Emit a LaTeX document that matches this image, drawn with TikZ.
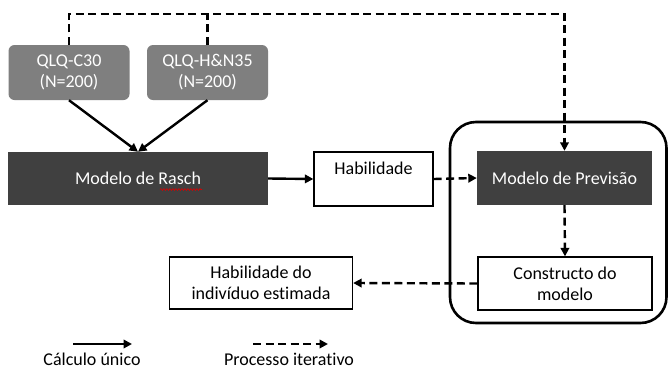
\documentclass[tikz,border=0pt]{standalone}
\usepackage{fontspec}
\setmainfont{Carlito}[Ligatures=NoCommon]
\usetikzlibrary{arrows.meta,decorations.pathmorphing,calc}
\definecolor{boxgrey}{RGB}{127,127,127}
\definecolor{boxdark}{RGB}{64,64,64}
\begin{document}
\begin{tikzpicture}[x=1pt,y=-1pt,
  font=\fontsize{18}{21}\selectfont,
  greybox/.style={fill=boxgrey,draw=none,rounded corners=6pt,text=white,align=center,inner sep=0pt},
  darkbox/.style={fill=boxdark,draw=none,text=white,align=center,inner sep=0pt},
  whitebox/.style={draw=black,line width=1.3pt,fill=white,align=center,inner sep=0pt},
  solidarrow/.style={line width=2.4pt,-{Triangle[length=8.5pt,width=8.5pt]}},
  dasharrow/.style={line width=2.4pt,dash pattern=on 8pt off 4.5pt,-{Triangle[length=8.5pt,width=8.5pt]}},
  dashline/.style={line width=2.4pt,dash pattern=on 8pt off 4.5pt},
  frame/.style={draw=black,line width=2.6pt,rounded corners=26pt},
  legendtext/.style={inner sep=0pt}]
\useasboundingbox (0,0) rectangle (669,370);
\fill[white] (0,0) rectangle (669,370);

% frame
\draw[frame] (450,122) rectangle (666.5,323);

% nodes
\node[greybox,minimum width=121pt,minimum height=55pt] (c30) at (69,72.5) {QLQ-C30\\(N=200)};
\node[greybox,minimum width=121pt,minimum height=55pt] (hn) at (207.5,72.5) {QLQ-H\&N35\\(N=200)};
\node[darkbox,minimum width=260pt,minimum height=53pt] (rasch) at (138,178.5) {Modelo de Rasch};
\node[whitebox,minimum width=119pt,minimum height=54pt] (hab) at (373.5,179) {Habilidade\\[1pt]~};
\node[darkbox,minimum width=175pt,minimum height=54pt] (prev) at (564.5,178) {Modelo de Previsão};
\node[whitebox,minimum width=174pt,minimum height=53pt] (cons) at (565,283.5) {Constructo do\\modelo};
\node[whitebox,minimum width=183pt,minimum height=52pt] (est) at (261,283) {Habilidade do\\indivíduo estimada};

% spell-check squiggle under "Rasch"
\draw[red!85!black,line width=0.6pt,decorate,decoration={snake,amplitude=0.9pt,segment length=3pt}] ($(rasch.center)+(22,11)$) -- ($(rasch.center)+(64,11)$);

% connectors
\coordinate (topline) at (0,14);
\draw[dashline] (hn.north) -- (hn.north |- topline);
\draw[dasharrow] (c30.north) -- (c30.north |- topline) -| (prev.north);
\draw[solidarrow] (c30.south) -- (rasch.north);
\draw[solidarrow] (hn.south) -- (rasch.north);
\draw[solidarrow] (rasch.east) -- (hab.west);
\draw[dasharrow] (hab.east) -- (prev.west);
\draw[dasharrow] (prev.south) -- (cons.north);
\draw[dasharrow] (cons.west) -- (est.east);

% legend
\coordinate (la1) at (73,344);
\coordinate (lb1) at (132,344);
\coordinate (la2) at (253,344);
\coordinate (lb2) at (328,344);
\draw[solidarrow] (la1) -- (lb1);
\draw[dasharrow] (la2) -- (lb2);
\node[legendtext] (lt1) at (92,359) {Cálculo único};
\node[legendtext] (lt2) at (289,359) {Processo iterativo};
\end{tikzpicture}
\end{document}
